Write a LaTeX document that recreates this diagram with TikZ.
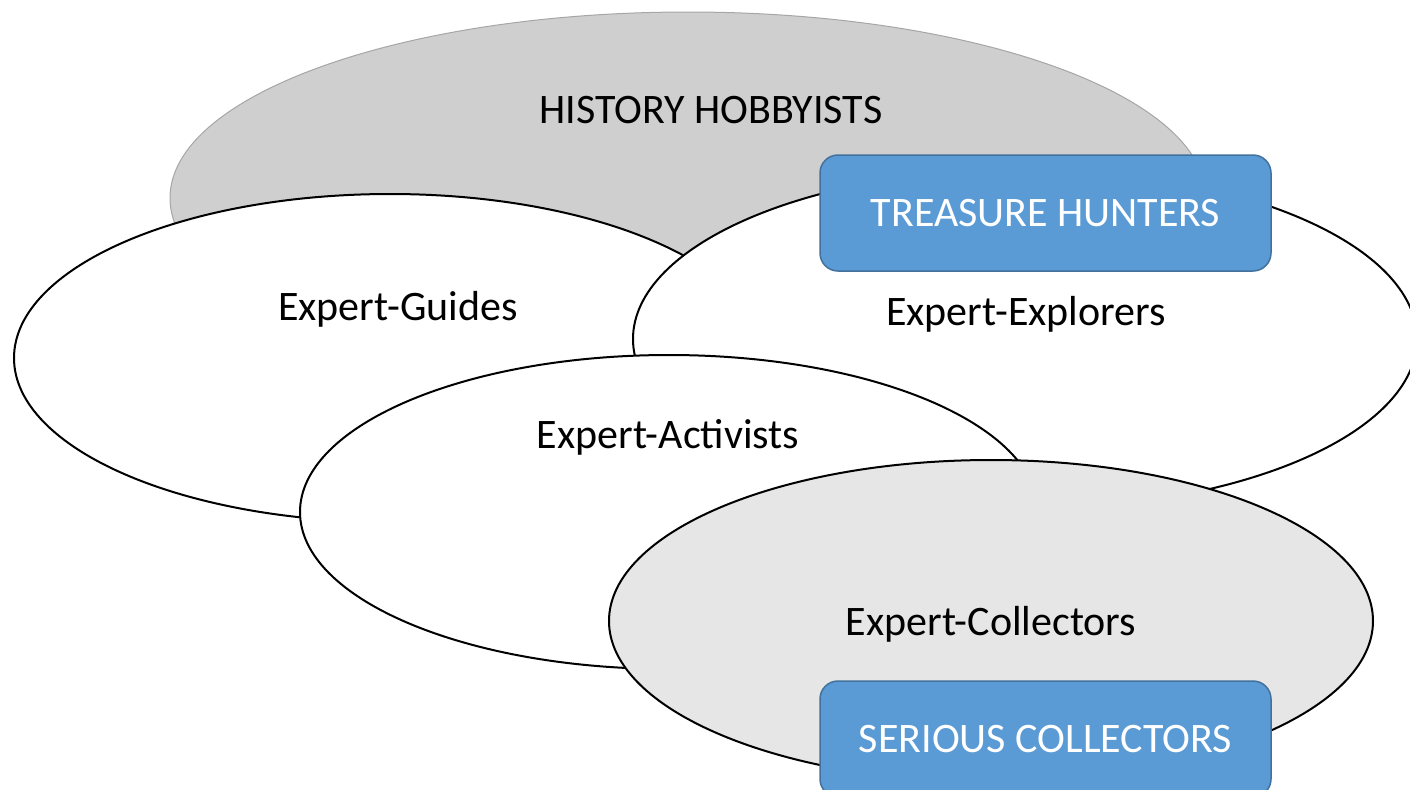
\documentclass[tikz,border=0pt]{standalone}
\usepackage{fontspec}
\setmainfont{Carlito}
\definecolor{hobbygray}{RGB}{207,207,207}
\definecolor{collectgray}{RGB}{230,230,230}
\definecolor{boxblue}{RGB}{91,155,213}
\definecolor{boxedge}{RGB}{65,113,156}

\begin{document}
\begin{tikzpicture}[x=0.5pt, y=-0.5pt,
                    ring/.style={draw=black, line width=1pt},
                    tag/.style={anchor=base, font=\fontsize{21}{25}\selectfont},
                    segment/.style={draw=boxedge, fill=boxblue, line width=0.75pt,
                                    rounded corners=9pt, minimum width=225.5pt,
                                    minimum height=58pt, inner sep=0pt, text=white,
                                    font=\fontsize{21}{25}\selectfont}]

  \useasboundingbox (0,0) rectangle (1410,789);
  \clip (0,0) rectangle (1410,789);

  % Outer group, mostly hidden below
  \draw[draw=gray!70, fill=hobbygray, line width=0.5pt]
        (688,198) ellipse [x radius=518, y radius=186];

  % Expert groups, drawn back to front
  \foreach \cx/\cy/\rx/\ry/\col in {390/358/376/164/white,
                                     1025/339/392/170/white,
                                     669/512/369/157/white,
                                     991/621/382/161/collectgray}
    \draw[ring, fill=\col] (\cx,\cy) ellipse [x radius=\rx, y radius=\ry];

  % Group labels
  \node[tag] (hobbyists) at (711,123) {HISTORY HOBBYISTS};
  \foreach \name/\x/\y in {Guides/398/320, Explorers/1026/325,
                           Activists/668/448, Collectors/991/635}
    \node[tag] (\name) at (\x,\y) {Expert-\name};

  % Segment boxes
  \node[segment] (hunters) at (1045.5,213) {TREASURE HUNTERS};
  \node[segment] (serious) at (1045.5,739) {SERIOUS COLLECTORS};

\end{tikzpicture}
\end{document}
